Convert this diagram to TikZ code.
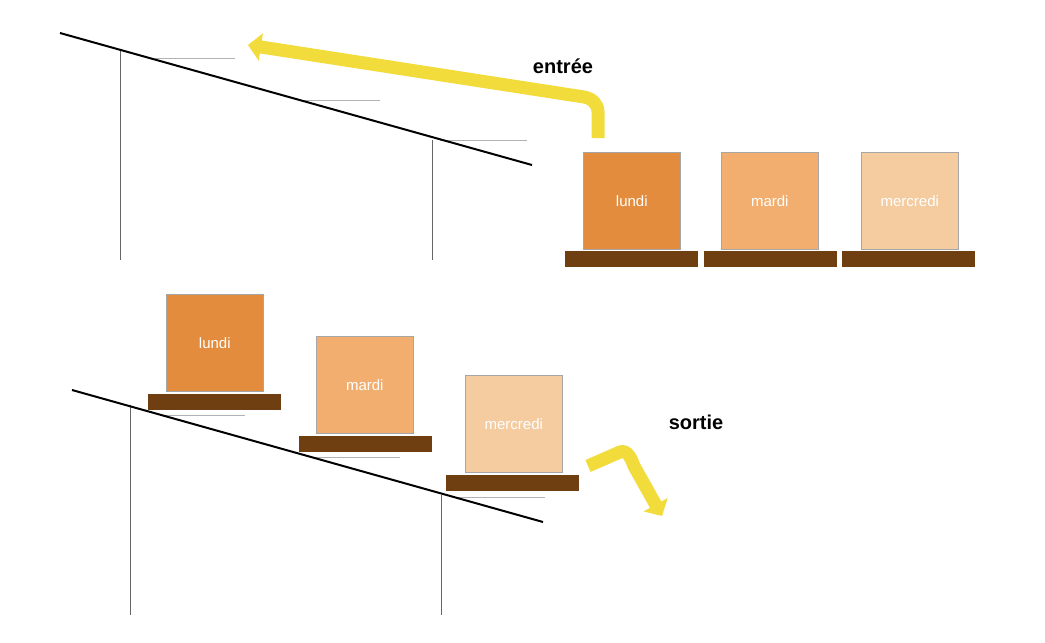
\documentclass[tikz,border=0pt]{standalone}
\usepackage{fontspec}
\setmainfont{Liberation Sans}
\usetikzlibrary{arrows.meta}
\definecolor{c1}{HTML}{E38C3E}
\definecolor{c2}{HTML}{F2AE6E}
\definecolor{c3}{HTML}{F5CBA0}
\definecolor{pal}{HTML}{6F3F12}
\definecolor{yel}{HTML}{F2DC3C}
\tikzset{
 box/.style={draw=gray!70,line width=0.6pt,minimum width=97pt,minimum height=97pt,anchor=north west,inner sep=0pt,text=white,font=\fontsize{15}{15}\selectfont},
 pallet/.style={fill=pal,draw=none,minimum width=133pt,minimum height=16pt,anchor=north west,inner sep=0pt},
 slope/.style={line width=2pt,black},
 post/.style={line width=0.6pt,gray!80!black},
 thin/.style={line width=0.6pt,gray!60},
 yarrow/.style={line width=13pt,yel,-{Triangle[length=13pt,width=27pt]}},
 lbl/.style={font=\bfseries\fontsize{20}{20}\selectfont}
}
\begin{document}
\begin{tikzpicture}[x=1pt,y=-1pt]
\useasboundingbox (0,0) rectangle (1045,643);
% top rack
\coordinate (t1) at (60,33); \coordinate (t2) at (532,165);
\draw[post] (120,50) -- (120,260);
\draw[post] (432,140) -- (432,260);
\draw[thin] (155,58) -- (235,58);
\draw[thin] (300,100) -- (380,100);
\draw[thin] (440,140) -- (527,140);
\draw[slope] (t1) -- (t2);
% top boxes
\node[box,fill=c1] (b1) at (583,152) {lundi};
\node[pallet] (p1) at (565,251) {};
\node[box,fill=c2] (b2) at (721,152) {mardi};
\node[pallet] (p2) at (704,251) {};
\node[box,fill=c3] (b3) at (861,152) {mercredi};
\node[pallet] (p3) at (842,251) {};
\coordinate (a1) at (598,138);
\coordinate (a2) at (248,45);
\draw[yarrow] (a1) -- (598,112) to[out=90,in=-10] (584,97) -- (a2);
\node[lbl] (en) at (563,66) {entrée};
% bottom rack
\coordinate (s1) at (72,390); \coordinate (s2) at (543,522);
\draw[post] (130,405) -- (130,615);
\draw[post] (441,495) -- (441,615);
\draw[thin] (160,415) -- (245,415);
\draw[thin] (310,457) -- (400,457);
\draw[thin] (455,497) -- (545,497);
\draw[slope] (s1) -- (s2);
\node[box,fill=c1] (d1) at (166,294) {lundi};
\node[pallet] (q1) at (148,394) {};
\node[box,fill=c2] (d2) at (316,336) {mardi};
\node[pallet] (q2) at (299,436) {};
\node[box,fill=c3] (d3) at (465,375) {mercredi};
\node[pallet] (q3) at (446,475) {};
\coordinate (e1) at (588,466);
\coordinate (e2) at (662,516);
\draw[yarrow] (e1) -- (620,452) to[out=20,in=110] (634,466) -- (e2);
\node[lbl] (so) at (696,422) {sortie};
\end{tikzpicture}
\end{document}
